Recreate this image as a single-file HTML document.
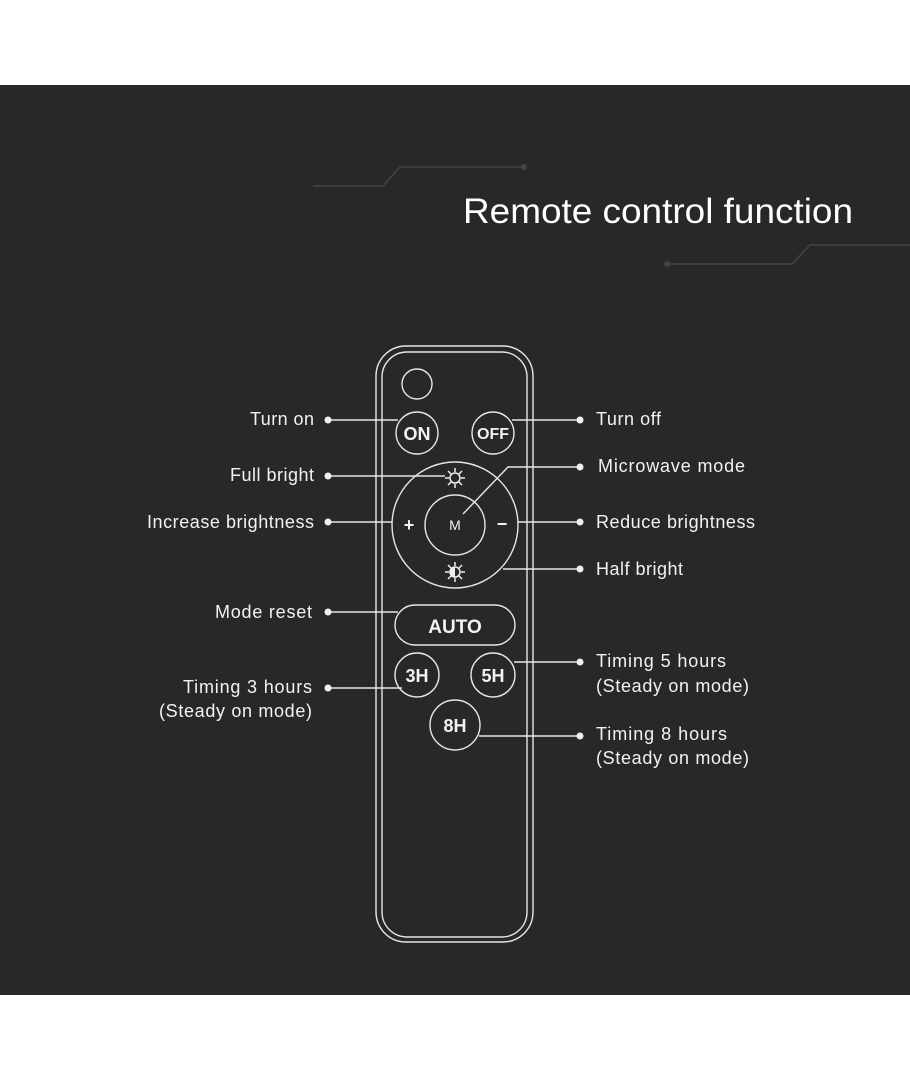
<!DOCTYPE html>
<html><head><meta charset="utf-8"><style>
html,body{margin:0;padding:0;background:#fff;width:910px;height:1080px;overflow:hidden}
svg{display:block}
text{font-family:"Liberation Sans",sans-serif;fill:#f2f2f2}
</style></head><body>
<svg width="910" height="1080" viewBox="0 0 910 1080">
<rect x="0" y="85" width="910" height="910" fill="#282828"/>
<g stroke="#444" stroke-width="1.5" fill="none">
<polyline points="313,186 383,186 400,167 523,167"/>
<polyline points="667,264 792,264 810,245 910,245"/>
</g>
<circle cx="524" cy="167" r="3" fill="#444"/>
<circle cx="667" cy="264" r="3" fill="#444"/>
<text x="463" y="223" font-size="35" textLength="390" lengthAdjust="spacingAndGlyphs" style="fill:#fff">Remote control function</text>

<g stroke="#e6e6e6" stroke-width="1.4" fill="none">
<rect x="376" y="346" width="157" height="596" rx="30"/>
<rect x="382" y="352" width="145" height="585" rx="25"/>
<circle cx="417" cy="384" r="15"/>
<circle cx="417" cy="433" r="21"/>
<circle cx="493" cy="433" r="21"/>
<circle cx="455" cy="525" r="63"/>
<circle cx="455" cy="525" r="30"/>
<rect x="395" y="605" width="120" height="40" rx="20"/>
<circle cx="417" cy="675" r="22"/>
<circle cx="493" cy="675" r="22"/>
<circle cx="455" cy="725" r="25"/>
<line x1="328" y1="420" x2="398" y2="420"/>
<line x1="512" y1="420" x2="580" y2="420"/>
<line x1="328" y1="476" x2="445" y2="476"/>
<polyline points="580,467 508,467 463,514"/>
<line x1="328" y1="522" x2="392" y2="522"/>
<line x1="518" y1="522" x2="580" y2="522"/>
<line x1="503" y1="569" x2="580" y2="569"/>
<line x1="328" y1="612" x2="398" y2="612"/>
<line x1="328" y1="688" x2="402" y2="688"/>
<line x1="514" y1="662" x2="580" y2="662"/>
<line x1="479" y1="736" x2="580" y2="736"/>
</g>
<g fill="#f0f0f0">
<circle cx="328" cy="420" r="3.5"/><circle cx="580" cy="420" r="3.5"/>
<circle cx="328" cy="476" r="3.5"/><circle cx="580" cy="467" r="3.5"/>
<circle cx="328" cy="522" r="3.5"/><circle cx="580" cy="522" r="3.5"/>
<circle cx="580" cy="569" r="3.5"/><circle cx="328" cy="612" r="3.5"/>
<circle cx="328" cy="688" r="3.5"/><circle cx="580" cy="662" r="3.5"/>
<circle cx="580" cy="736" r="3.5"/>
</g>
<g stroke="#eee" stroke-width="1.5" fill="none">
<circle cx="455" cy="478" r="5"/>
<path d="M455,468v4M455,484v4M445,478h4M461,478h4M448,471l3,3M459,482l3,3M462,471l-3,3M451,482l-3,3"/>
<circle cx="455" cy="572" r="5"/>
<path d="M455,562v4M455,578v4M445,572h4M461,572h4M448,565l3,3M459,576l3,3M462,565l-3,3M451,576l-3,3"/>
</g>
<path d="M455,567a5,5 0 0 0 0,10z" fill="#eee"/>
<g font-weight="bold" text-anchor="middle" font-size="18">
<text x="417" y="440">ON</text>
<text x="493" y="439" font-size="16">OFF</text>
<text x="455" y="633" font-size="19">AUTO</text>
<text x="417" y="682">3H</text>
<text x="493" y="682">5H</text>
<text x="455" y="732">8H</text>
<text x="455" y="530" font-size="14" font-weight="normal">M</text>
<text x="409" y="531" font-size="18">+</text>
<text x="502" y="530" font-size="18">−</text>
</g>
<g font-size="18" lengthAdjust="spacingAndGlyphs">
<text x="250" y="425" textLength="64">Turn on</text>
<text x="230" y="481" textLength="84">Full bright</text>
<text x="147" y="528" textLength="167">Increase brightness</text>
<text x="215" y="618" textLength="97">Mode reset</text>
<text x="183" y="693" textLength="129">Timing 3 hours</text>
<text x="159" y="717" textLength="153">(Steady on mode)</text>
<text x="596" y="425" textLength="65">Turn off</text>
<text x="598" y="472" textLength="147">Microwave mode</text>
<text x="596" y="528" textLength="159">Reduce brightness</text>
<text x="596" y="575" textLength="87">Half bright</text>
<text x="596" y="667" textLength="130">Timing 5 hours</text>
<text x="596" y="692" textLength="153">(Steady on mode)</text>
<text x="596" y="740" textLength="131">Timing 8 hours</text>
<text x="596" y="764" textLength="153">(Steady on mode)</text>
</g>
</svg>
</body></html>
